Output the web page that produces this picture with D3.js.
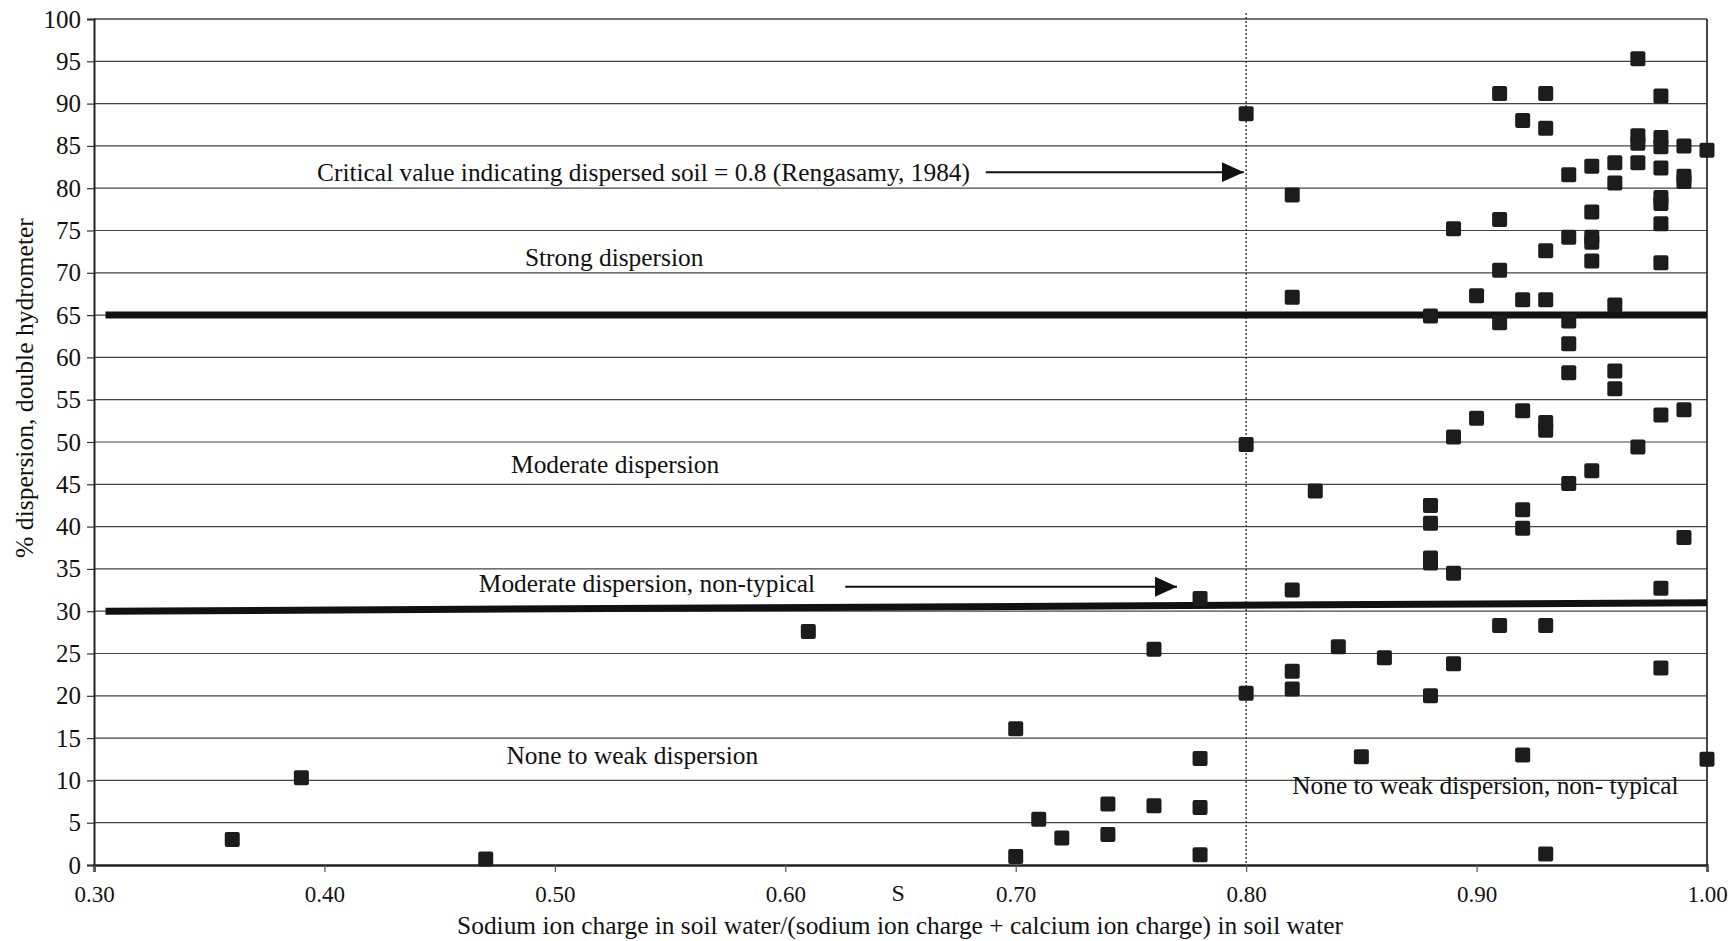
<!DOCTYPE html>
<html>
<head>
<meta charset="utf-8">
<script src="https://cdn.jsdelivr.net/npm/d3@7"></script>
<style>
  html, body { margin: 0; padding: 0; background: #fff; }
  svg { display: block; }
  text { font-family: "Liberation Serif", "Times New Roman", serif; fill: #111; }
</style>
</head>
<body>
<svg id="chart" width="1734" height="941"></svg>
<script>
// Sodium ratio S = Na / (Na + Ca) charge in soil water
const sRatio = [
  0.36, 0.39, 0.47, 0.61, 0.70, 0.70, 0.71, 0.72, 0.74, 0.74, 0.76, 0.76,
  0.78, 0.78, 0.78, 0.78, 0.80, 0.80, 0.80, 0.82, 0.82, 0.82, 0.82, 0.82,
  0.83, 0.84, 0.85, 0.86, 0.88, 0.88, 0.88, 0.88, 0.88, 0.88, 0.89, 0.89,
  0.89, 0.89, 0.90, 0.90, 0.91, 0.91, 0.91, 0.91, 0.91, 0.92, 0.92, 0.92,
  0.92, 0.92, 0.92, 0.93, 0.93, 0.93, 0.93, 0.93, 0.93, 0.93, 0.93, 0.94,
  0.94, 0.94, 0.94, 0.94, 0.94, 0.95, 0.95, 0.95, 0.95, 0.95, 0.95, 0.96,
  0.96, 0.96, 0.96, 0.96, 0.97, 0.97, 0.97, 0.97, 0.97, 0.98, 0.98, 0.98,
  0.98, 0.98, 0.98, 0.98, 0.98, 0.98, 0.98, 0.98, 0.99, 0.99, 0.99, 0.99,
  0.99, 1.00, 1.00
];
// % dispersion (double hydrometer) for each sample, same order
const dispersion = [
  3.0, 10.3, 0.7, 27.6, 16.1, 1.0, 5.4, 3.2, 7.2, 3.6, 25.5, 7.0,
  31.5, 12.6, 6.8, 1.2, 88.8, 49.7, 20.3, 79.2, 67.1, 32.5, 22.9, 20.8,
  44.2, 25.8, 12.8, 24.5, 64.9, 42.5, 40.4, 36.3, 35.7, 20.0, 75.2, 50.6,
  34.5, 23.8, 67.3, 52.8, 91.2, 76.3, 70.3, 64.1, 28.3, 88.0, 66.8, 53.7,
  42.0, 39.8, 13.0, 91.2, 87.1, 72.6, 66.8, 52.3, 51.4, 28.3, 1.3, 81.6,
  74.2, 64.3, 61.6, 58.2, 45.1, 82.6, 77.2, 74.2, 73.6, 71.4, 46.6, 83.0,
  80.6, 66.2, 58.4, 56.3, 95.3, 86.2, 85.3, 83.0, 49.4, 90.9, 86.0, 84.9,
  82.4, 78.9, 78.2, 75.8, 71.2, 53.2, 32.7, 23.3, 85.0, 81.4, 80.8, 53.8,
  38.7, 84.5, 12.5
];

const xTickValues = [0.30, 0.40, 0.50, 0.60, 0.70, 0.80, 0.90, 1.00];
const yTickValues = d3.range(0, 101, 5);

// Class boundaries drawn as heavy lines: [start S, start %], [end S, end %]
const boundaryStart = [[0.305, 65], [0.305, 30]];
const boundaryEnd   = [[1.00, 65], [1.00, 31]];

// Critical S value (Rengasamy, 1984)
const criticalS = 0.8;

// Region labels, anchored in data units
const regionLabels = [
  { text: "Critical value indicating dispersed soil = 0.8 (Rengasamy, 1984)", s: 0.3968, p: 81.9 },
  { text: "Strong dispersion", s: 0.487, p: 71.8 },
  { text: "Moderate dispersion", s: 0.481, p: 47.4 },
  { text: "Moderate dispersion, non-typical", s: 0.467, p: 33.3 },
  { text: "None to weak dispersion", s: 0.479, p: 13.0 },
  { text: "None to weak dispersion, non- typical", s: 0.820, p: 9.4 }
];
// Pointer arrows: from [S, %] to [S, %]
const arrowFrom = [[0.687, 81.9], [0.626, 32.9]];
const arrowTo   = [[0.799, 81.9], [0.770, 32.9]];

const xTitle = "Sodium ion charge in soil water/(sodium ion charge + calcium ion charge) in soil water";
const yTitle = "% dispersion, double hydrometer";

const W = 1734, H = 941;
const margin = { left: 94, top: 19, right: 27, bottom: 76 };
const plotW = W - margin.left - margin.right;
const plotH = H - margin.top - margin.bottom;

const svg = d3.select("#chart");
const g = svg.append("g").attr("transform", `translate(${margin.left},${margin.top})`);

const x = d3.scaleLinear().domain([0.30, 1.00]).range([0, plotW]);
const y = d3.scaleLinear().domain([0, 100]).range([plotH, 0]);

// Arrowhead marker
svg.append("defs").append("marker")
  .attr("id", "head")
  .attr("viewBox", "0 0 11 10")
  .attr("refX", 11).attr("refY", 5)
  .attr("markerWidth", 11).attr("markerHeight", 10)
  .attr("markerUnits", "strokeWidth")
  .attr("orient", "auto")
  .append("path").attr("d", "M0,0 L11,5 L0,10 Z").attr("fill", "#111");

// Horizontal gridlines
g.append("g").selectAll("line").data(yTickValues.filter(d => d > 0)).join("line")
  .attr("x1", 0).attr("x2", plotW)
  .attr("y1", d => y(d)).attr("y2", d => y(d))
  .attr("stroke", "#444").attr("stroke-width", d => d === 100 ? 1.7 : 1.2);

// Right frame
g.append("line").attr("x1", plotW).attr("x2", plotW).attr("y1", 0).attr("y2", plotH)
  .attr("stroke", "#333").attr("stroke-width", 1.8);

// Critical value dotted line
g.append("line")
  .attr("x1", x(criticalS)).attr("x2", x(criticalS))
  .attr("y1", y(100) - 6).attr("y2", y(0))
  .attr("stroke", "#333").attr("stroke-width", 1.4).attr("stroke-dasharray", "2,2");

// Axes
const yAxis = d3.axisLeft(y).tickValues(yTickValues).tickSize(7).tickPadding(6).tickFormat(d3.format("d"));
const xAxis = d3.axisBottom(x).tickValues(xTickValues).tickSize(7).tickPadding(14).tickFormat(d3.format(".2f"));

const ya = g.append("g").call(yAxis);
ya.select(".domain").attr("stroke", "#222").attr("stroke-width", 2);
ya.selectAll(".tick line").attr("stroke", "#333").attr("stroke-width", 1.2);
ya.selectAll(".tick text").style("font-family", "Liberation Serif, serif").style("font-size", "25px").attr("fill", "#111");

const xa = g.append("g").attr("transform", `translate(0,${plotH})`).call(xAxis);
xa.select(".domain").attr("stroke", "#222").attr("stroke-width", 2.4);
xa.selectAll(".tick line").attr("stroke", "#555").attr("stroke-width", 1.2);
xa.selectAll(".tick text").style("font-family", "Liberation Serif, serif").style("font-size", "23px").attr("fill", "#111");

// Class boundary lines
g.append("g").selectAll("line").data(boundaryStart.map((s, i) => [s, boundaryEnd[i]])).join("line")
  .attr("x1", d => x(d[0][0])).attr("y1", d => y(d[0][1]))
  .attr("x2", d => x(d[1][0])).attr("y2", d => y(d[1][1]))
  .attr("stroke", "#111").attr("stroke-width", 7);

// Region labels
g.append("g").selectAll("text").data(regionLabels).join("text")
  .attr("x", d => x(d.s)).attr("y", d => y(d.p)).attr("dy", "0.35em")
  .style("font-size", "25.4px")
  .text(d => d.text);

// Arrows
g.append("g").selectAll("line").data(arrowFrom.map((a, i) => [a, arrowTo[i]])).join("line")
  .attr("x1", d => x(d[0][0])).attr("y1", d => y(d[0][1]))
  .attr("x2", d => x(d[1][0])).attr("y2", d => y(d[1][1]))
  .attr("stroke", "#111").attr("stroke-width", 2)
  .attr("marker-end", "url(#head)");

// Data points: filled squares
const size = 15;
g.append("g").selectAll("rect").data(sRatio.map((s, i) => ({ s, p: dispersion[i] }))).join("rect")
  .attr("x", d => x(d.s) - size / 2).attr("y", d => y(d.p) - size / 2)
  .attr("width", size).attr("height", size).attr("rx", 2)
  .attr("fill", "#1c1c1c");

// Stray axis letter "S" between 0.60 and 0.70
g.append("text").attr("x", x(0.649)).attr("y", plotH + 28).attr("dy", "0.35em")
  .attr("text-anchor", "middle").style("font-size", "24px").text("S");

// Axis titles
svg.append("text").attr("x", 900).attr("y", 925).attr("dy", "0.35em")
  .attr("text-anchor", "middle").style("font-size", "25.4px").text(xTitle);

svg.append("text").attr("transform", "translate(24,388) rotate(-90)").attr("dy", "0.35em")
  .attr("text-anchor", "middle").style("font-size", "25.6px").text(yTitle);
</script>
</body>
</html>
